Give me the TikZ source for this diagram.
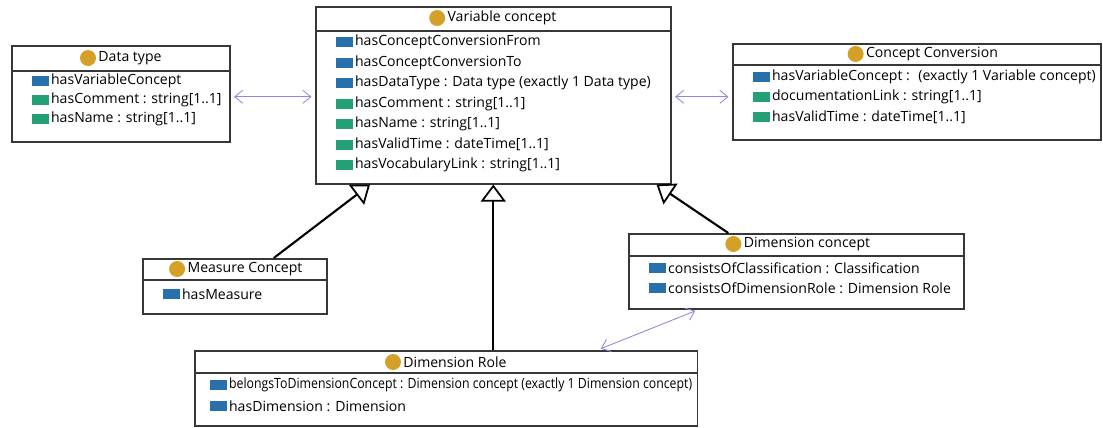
\documentclass[tikz,border=0pt]{standalone}
\usepackage{fontspec}
\setmainfont{Open Sans}
\usetikzlibrary{arrows.meta,positioning}

\definecolor{clsgold}{RGB}{212,160,40}
\definecolor{refblue}{RGB}{40,112,172}
\definecolor{valgreen}{RGB}{36,160,118}
\definecolor{boxline}{RGB}{55,55,55}
\definecolor{assocline}{RGB}{140,140,220}

\tikzset{
  classbox/.style={draw=boxline, line width=0.9pt, anchor=north west,
    inner sep=0pt},
  headline/.style={draw=boxline, line width=0.9pt},
  classname/.style={inner sep=1pt, label distance=2pt,
    label={[circle, fill=clsgold, minimum size=0.32cm, inner sep=0pt]left:{}}},
  attr/.style={anchor=west, inner sep=1pt, label distance=1.8pt},
  refattr/.style={attr,
    label={[fill=refblue, minimum width=0.34cm, minimum height=0.2cm, inner sep=0pt]left:{}}},
  valattr/.style={attr,
    label={[fill=valgreen, minimum width=0.34cm, minimum height=0.2cm, inner sep=0pt]left:{}}},
  isa/.style={draw=black, line width=1.2pt,
    -{Triangle[open, length=3.4mm, width=5mm, line width=1pt]}},
  assoc/.style={draw=assocline, line width=0.5pt,
    {Straight Barb[length=1.6mm, width=2.6mm]}-{Straight Barb[length=1.6mm, width=2.6mm]},
    shorten <=2pt, shorten >=2pt}
}

\begin{document}
\begin{tikzpicture}[x=0.02cm, y=-0.02cm,
    font=\fontsize{8}{9.6}\selectfont]
      \useasboundingbox (0,0) rectangle (1103,427);
      % Add the classes
      \node[classbox,
        minimum width=4.36cm,
        minimum height=1.92cm] (dt) at (11,45) {};
      \draw[headline] ([yshift=-0.52cm]dt.north west) -- ([yshift=-0.52cm]dt.north east);
      \node[classname] (dtname) at (130,58) {Data type};
      \node[refattr] (dtvc)   at (49,81)  {hasVariableConcept};
      \node[valattr] (dtcom)  at (49,100) {hasComment : string[1..1]};
      \node[valattr] (dtnam)  at (49,119) {hasName : string[1..1]};

      \node[classbox,
        minimum width=7.1cm,
        minimum height=3.54cm] (vc) at (315,6) {};
      \draw[headline] ([yshift=-0.5cm]vc.north west) -- ([yshift=-0.5cm]vc.north east);
      \node[classname] (vcname) at (502,18) {Variable concept};
      \node[refattr] (vcfrom) at (353,42)    {hasConceptConversionFrom};
      \node[refattr] (vcto)   at (353,62.5)  {hasConceptConversionTo};
      \node[refattr] (vcdt)   at (353,83)    {hasDataType : Data type (exactly 1 Data type)};
      \node[valattr] (vccom)  at (353,103.5) {hasComment : string[1..1]};
      \node[valattr] (vcnam)  at (353,124)   {hasName : string[1..1]};
      \node[valattr] (vctime) at (353,144.5) {hasValidTime : dateTime[1..1]};
      \node[valattr] (vcvoc)  at (353,165)   {hasVocabularyLink : string[1..1]};

      \node[classbox,
        minimum width=7.36cm,
        minimum height=1.92cm] (cc) at (732,43) {};
      \draw[headline] ([yshift=-0.44cm]cc.north west) -- ([yshift=-0.44cm]cc.north east);
      \node[classname] (ccname) at (932,54) {Concept Conversion};
      \node[refattr] (ccvc)   at (770,77)  {hasVariableConcept : \ (exactly 1 Variable concept)};
      \node[valattr] (ccdoc)  at (770,97)  {documentationLink : string[1..1]};
      \node[valattr] (cctime) at (770,117) {hasValidTime : dateTime[1..1]};

      \node[classbox,
        minimum width=3.68cm,
        minimum height=1.1cm] (mc) at (142,258) {};
      \draw[headline] ([yshift=-0.44cm]mc.north west) -- ([yshift=-0.44cm]mc.north east);
      \node[classname] (mcname) at (245,269) {Measure Concept};
      \node[refattr] (mcmeas) at (180,294) {hasMeasure};

      \node[classbox,
        minimum width=6.7cm,
        minimum height=1.5cm] (dc) at (628,233) {};
      \draw[headline] ([yshift=-0.46cm]dc.north west) -- ([yshift=-0.46cm]dc.north east);
      \node[classname] (dcname) at (807,244) {Dimension concept};
      \node[refattr] (dcclass) at (666,268) {consistsOfClassification : Classification};
      \node[refattr] (dcrole)  at (666,288) {consistsOfDimensionRole : Dimension Role};

      \node[classbox,
        minimum width=10.06cm,
        minimum height=1.5cm] (dr) at (194,350) {};
      \draw[headline] ([yshift=-0.46cm]dr.north west) -- ([yshift=-0.46cm]dr.north east);
      \node[classname] (drname) at (455,362) {Dimension Role};
      \node[refattr] (drdc)  at (227,385) {\scalebox{0.875}[1]{belongsToDimensionConcept : Dimension concept (exactly 1 Dimension concept)}};
      \node[refattr] (drdim) at (227,406) {hasDimension : Dimension};

      % Connect the classes
      \coordinate (ccin) at ([yshift=-0.1cm]cc.west);
      \draw[assoc] ([yshift=-0.06cm]dt.east) -- ([yshift=-0.06cm]dt.east -| vc.west);
      \draw[assoc] (ccin -| vc.east) -- (ccin);
      \draw[assoc] ([xshift=-2.02cm]dr.north east) -- (dc.south -| dr.east);
      \draw[isa] ([xshift=0.78cm]mc.north) -- ([xshift=1.1cm]vc.south west);
      \draw[isa] (vc.south |- dr.north) -- (vc.south);
      \draw[isa] ([xshift=-1.36cm]dc.north) -- ([xshift=-0.3cm]vc.south east);
    \end{tikzpicture}
\end{document}
